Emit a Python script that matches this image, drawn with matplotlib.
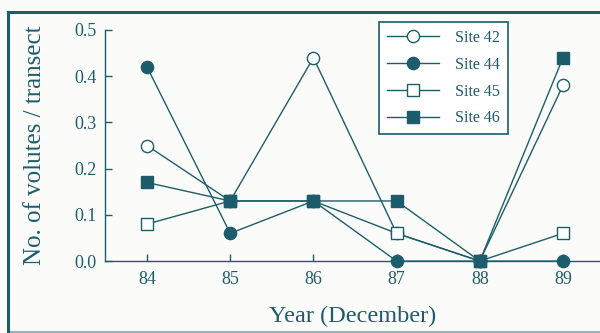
import matplotlib
matplotlib.use("Agg")
import matplotlib.pyplot as plt
from matplotlib.lines import Line2D

years = [84, 85, 86, 87, 88, 89]
year_labels = ["84", "85", "86", "87", "88", "89"]
site42 = [0.25, 0.13, 0.44, 0.06, 0.0, 0.38]
site44 = [0.42, 0.06, 0.13, 0.0, 0.0, 0.0]
site45 = [0.08, 0.13, 0.13, 0.06, 0.0, 0.06]
site46 = [0.17, 0.13, 0.13, 0.13, 0.0, 0.44]
yticks = [0.0, 0.1, 0.2, 0.3, 0.4, 0.5]
ytick_labels = ["0.0", "0.1", "0.2", "0.3", "0.4", "0.5"]

ink = "#1d5c6a"
bg = "#fbfcfa"
plt.rcParams["font.family"] = ["Liberation Serif", "DejaVu Serif"]

fig = plt.figure(figsize=(6.0, 3.33), dpi=100, facecolor=bg)
ax = fig.add_axes([0.175, 0.216, 0.825, 0.694])
ax.set_facecolor(bg)

style = dict(color=ink, lw=1.0, markersize=8.8, markeredgewidth=1.0,
             markeredgecolor=ink, clip_on=False)
ax.plot(years, site42, marker="o", markerfacecolor="white", label="Site 42", zorder=3, **style)
ax.plot(years, site44, marker="o", markerfacecolor=ink, label="Site 44", zorder=3, **style)
ax.plot(years, site45, marker="s", markerfacecolor="white", label="Site 45", zorder=4, **style)
ax.plot(years, site46, marker="s", markerfacecolor=ink, label="Site 46", zorder=4, **style)

ax.set_xlim(83.495, 89.445)
ax.set_ylim(0, 0.5)
ax.set_xticks(years)
ax.set_xticklabels(year_labels)
ax.set_yticks(yticks)
ax.set_yticklabels(ytick_labels)
for s in ("top", "right"):
    ax.spines[s].set_visible(False)
for s in ("left", "bottom"):
    ax.spines[s].set_color(ink)
    ax.spines[s].set_linewidth(1.0)
ax.tick_params(direction="in", colors=ink, labelsize=13, length=5, width=1.0)
ax.tick_params(axis="y", pad=6)
ax.tick_params(axis="x", pad=7)

ax.set_ylabel("No. of volutes / transect", fontsize=18, color=ink)
ax.yaxis.set_label_coords(-0.12, 0.5)
ax.set_xlabel("Year (December)", fontsize=17.5, color=ink, labelpad=13)

leg = ax.legend(loc="upper left", bbox_to_anchor=(0.553, 1.035), fontsize=11.5,
                frameon=True, fancybox=False, handlelength=3.3, handletextpad=1.0,
                borderpad=0.5, labelspacing=0.68, labelcolor=ink, borderaxespad=0)
leg.get_frame().set_edgecolor(ink)
leg.get_frame().set_linewidth(1.2)
leg.get_frame().set_facecolor("white")
leg.get_frame().set_alpha(1.0)

# outer frame around the figure
fig.add_artist(Line2D([0.014, 0.014], [0.0, 0.964], transform=fig.transFigure, color=ink, lw=2.2))
fig.add_artist(Line2D([0.014, 1.0], [0.964, 0.964], transform=fig.transFigure, color=ink, lw=2.2))
fig.add_artist(Line2D([0.014, 1.0], [0.004, 0.004], transform=fig.transFigure, color=ink, lw=1.5, alpha=0.45))

fig.savefig("out.png", dpi=100, facecolor=bg)
